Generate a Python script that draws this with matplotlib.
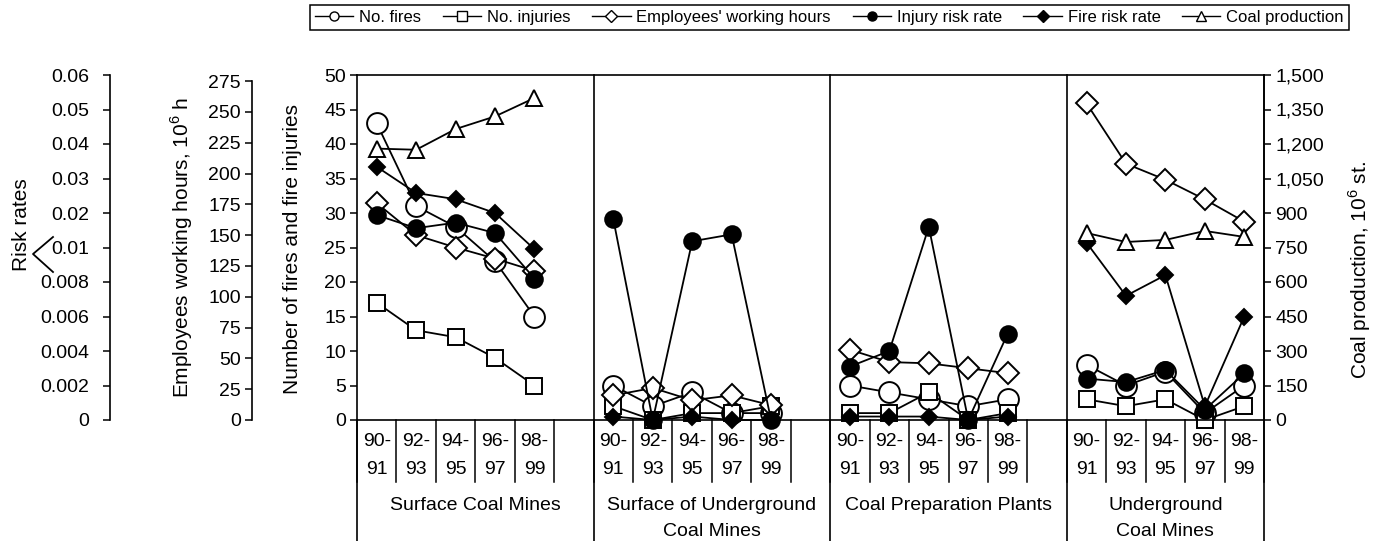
import numpy as np
import matplotlib
matplotlib.use('Agg')
import matplotlib.pyplot as plt
from matplotlib.lines import Line2D

plt.rcParams['font.family'] = ['Liberation Sans', 'DejaVu Sans']
plt.rcParams['mathtext.fontset'] = 'custom'
plt.rcParams['mathtext.rm'] = 'Liberation Sans'

# --- data (4 facility types x 5 two-year periods) ---
panels = ['Surface Coal Mines', 'Surface of Underground\nCoal Mines',
          'Coal Preparation Plants', 'Underground\nCoal Mines']
years_top = ['90-', '92-', '94-', '96-', '98-']
years_bot = ['91', '93', '95', '97', '99']

fires = [43, 31, 28, 23, 15,
         5, 2, 4, 1, 1,
         5, 4, 3, 2, 3,
         8, 5, 7, 1, 5]
injuries = [17, 13, 12, 9, 5,
            2, 0, 1, 1, 2,
            1, 1, 4, 0, 1,
            3, 2, 3, 0, 2]
hours = [176, 150, 140, 131, 121,        # 10^6 h
         20, 26, 16, 20, 12,
         57, 47, 46, 42, 38,
         257, 208, 195, 179, 161]
injury_risk = [0.0194, 0.0156, 0.0172, 0.0142, 0.0082,
               0.0182, 0.0, 0.0118, 0.0138, 0.0,
               0.0031, 0.0040, 0.0160, 0.0, 0.0050,
               0.0024, 0.0022, 0.0029, 0.0006, 0.0027]
fire_risk = [0.0334, 0.0258, 0.0240, 0.0200, 0.0099,
             0.0002, 0.0, 0.0002, 0.0, 0.0,
             0.0002, 0.0002, 0.0002, 0.0, 0.0002,
             0.0114, 0.0072, 0.0084, 0.0008, 0.0060]
coal = [1180, 1175, 1265, 1320, 1400,    # 10^6 st
        np.nan, np.nan, np.nan, np.nan, np.nan,
        np.nan, np.nan, np.nan, np.nan, np.nan,
        813, 774, 783, 822, 796]

risk_ticks = [0, 0.002, 0.004, 0.006, 0.008, 0.01, 0.02, 0.03, 0.04, 0.05, 0.06]
risk_labels = ['0', '0.002', '0.004', '0.006', '0.008', '0.01',
               '0.02', '0.03', '0.04', '0.05', '0.06']


def risk_fwd(r):
    r = np.asarray(r, dtype=float)
    return np.where(r <= 0.01, r * 2500.0, 25.0 + (r - 0.01) * 500.0)


def risk_inv(f):
    f = np.asarray(f, dtype=float)
    return np.where(f <= 25.0, f / 2500.0, 0.01 + (f - 25.0) / 500.0)


W, H = 1388, 541
fig = plt.figure(figsize=(W / 100, H / 100), dpi=100)
ax = fig.add_axes([357 / W, 121 / H, (1264 - 357) / W, 345 / H])
ax_h = ax.twinx()
ax_r = ax.twinx()
ax_c = ax.twinx()

ncol = 5
starts = [0, 6, 12, 18]
ax.set_xlim(0, 23)
ax.set_ylim(0, 50)
ax_h.set_ylim(0, 280)
ax_r.set_yscale('function', functions=(risk_fwd, risk_inv))
ax_r.set_ylim(0, 0.06)
ax_c.set_ylim(0, 1500)

lw, mew = 1.3, 1.4
styles = [
    (ax, fires, dict(marker='o', ms=15, mfc='white'), 'No. fires'),
    (ax, injuries, dict(marker='s', ms=11.5, mfc='white'), 'No. injuries'),
    (ax_h, hours, dict(marker='D', ms=11, mfc='white'), "Employees' working hours"),
    (ax_r, injury_risk, dict(marker='o', ms=12, mfc='black'), 'Injury risk rate'),
    (ax_r, fire_risk, dict(marker='D', ms=8.5, mfc='black'), 'Fire risk rate'),
    (ax_c, coal, dict(marker='^', ms=12, mfc='white'), 'Coal production'),
]
handles = []
for axis, vals, st, lab in styles:
    vals = np.asarray(vals, dtype=float)
    for p, s0 in enumerate(starts):
        xs = s0 + np.arange(ncol) + 0.5
        axis.plot(xs, vals[p * ncol:(p + 1) * ncol], color='black', lw=lw,
                  mec='black', mew=mew, clip_on=False, **st)
    handles.append(Line2D([], [], color='black', lw=1.0, mec='black', mew=1.0,
                          marker=st['marker'], mfc=st['mfc'], ms=6.5))

# main axis (fires / injuries)
for sp in ['top', 'right', 'left', 'bottom']:
    ax.spines[sp].set_linewidth(1.2)
ax.set_xticks([])
ax.set_yticks(np.arange(0, 51, 5))
ax.tick_params(axis='y', direction='out', length=5, width=1.1, labelsize=14, pad=3)

# hours and risk axes (left, outward)
for a, off, top, ticks, pad in [(ax_h, 75.6, 275, np.arange(0, 276, 25), 3),
                                (ax_r, 177.8, 0.06, risk_ticks, 10)]:
    a.spines['right'].set_visible(False)
    a.spines['top'].set_visible(False)
    a.spines['bottom'].set_visible(False)
    a.spines['left'].set_visible(True)
    a.spines['left'].set_position(('outward', off))
    a.spines['left'].set_bounds(0, top)
    a.spines['left'].set_linewidth(1.2)
    a.yaxis.set_ticks_position('left')
    a.yaxis.set_label_position('left')
    a.set_yticks(ticks)
    a.tick_params(axis='y', direction='out', length=5, width=1.1, labelsize=14, pad=pad)
ax_r.set_yticklabels(risk_labels)
ax_r.yaxis.set_minor_locator(matplotlib.ticker.NullLocator())

# coal axis (right)
for sp in ['top', 'left', 'bottom']:
    ax_c.spines[sp].set_visible(False)
ax_c.spines['right'].set_linewidth(1.2)
ax_c.set_yticks(np.arange(0, 1501, 150))
ax_c.set_yticklabels(['{:,}'.format(v) for v in range(0, 1501, 150)])
ax_c.tick_params(axis='y', direction='out', length=5, width=1.1, labelsize=14, pad=3)

# category grid below the axis
depth_cols = -(482 - 420) / 345
depth_all = -(541 - 420) / 345 - 0.02
for s0 in starts:
    for k in range(ncol + 1):
        ax.axvline(s0 + k, ymin=depth_cols, ymax=0, color='black', lw=1.1, clip_on=False)
for xb in [0, 6, 12, 18, 23]:
    top = 1 if xb in (6, 12, 18) else 0
    ax.axvline(xb, ymin=depth_all, ymax=top, color='black', lw=1.2, clip_on=False)

tr = ax.get_xaxis_transform()
for p, s0 in enumerate(starts):
    for k in range(ncol):
        ax.text(s0 + k + 0.5, -(442 - 420) / 345, years_top[k], transform=tr,
                ha='center', va='center', fontsize=14)
        ax.text(s0 + k + 0.5, -(469 - 420) / 345, years_bot[k], transform=tr,
                ha='center', va='center', fontsize=14)
    width = 5 if p == 3 else 6
    for j, line in enumerate(panels[p].split('\n')):
        ax.text(s0 + width / 2, -(506 + 25 * j - 420) / 345, line, transform=tr,
                ha='center', va='center', fontsize=14)

# axis titles
fig.text(22 / W, 1 - 225 / H, 'Risk rates', rotation=90, ha='center', va='center', fontsize=15)
fig.text(182 / W, 1 - 248 / H, 'Employees working hours, 10$^6$ h', rotation=90,
         ha='center', va='center', fontsize=15)
fig.text(293 / W, 1 - 249 / H, 'Number of fires and fire injuries', rotation=90,
         ha='center', va='center', fontsize=15)
fig.text(1360 / W, 1 - 270 / H, 'Coal production, 10$^6$ st.', rotation=90,
         ha='center', va='center', fontsize=15)

# axis break mark on the risk scale
fig.add_artist(Line2D([53 / W, 33 / W, 53 / W], [1 - 237 / H, 1 - 254 / H, 1 - 272 / H],
                      color='black', lw=1.3, transform=fig.transFigure))

leg = fig.legend(handles, [s[3] for s in styles], loc='upper left',
                 bbox_to_anchor=(310 / W, 1 - 5 / H), ncol=6, fontsize=12,
                 frameon=True, fancybox=False, edgecolor='black', framealpha=1,
                 handlelength=2.3, handletextpad=0.35, columnspacing=1.3,
                 borderpad=0.3, borderaxespad=0)
leg.get_frame().set_linewidth(1.1)

fig.savefig('out.png', dpi=100)
